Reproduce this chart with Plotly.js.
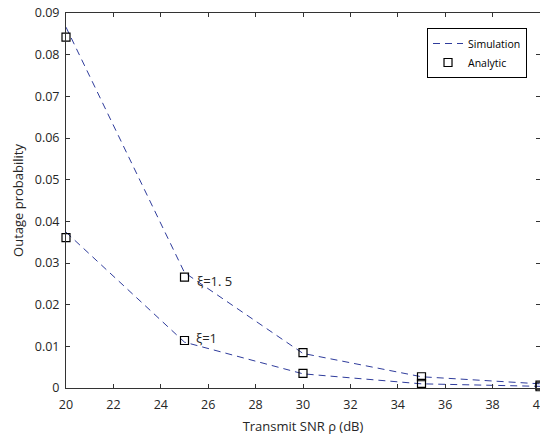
<!DOCTYPE html>
<html>
<head>
<meta charset="utf-8">
<script src="https://cdn.plot.ly/plotly-3.0.1.min.js"></script>
<style>html,body{margin:0;padding:0;background:#fff;}#chart{width:540px;height:439px;}</style>
</head>
<body>
<div id="chart"></div>
<script>
// SNR values (dB)
const snr = [20, 25, 30, 35, 40];
// Simulation (dashed lines)
const simXi15 = [0.0866, 0.0277, 0.0083, 0.0027, 0.0010];
const simXi1  = [0.0374, 0.0110, 0.0034, 0.0010, 0.0004];
// Analytic (square markers)
const anaXi15 = [0.0842, 0.0266, 0.0085, 0.0027, 0.0007];
const anaXi1  = [0.0361, 0.0114, 0.0035, 0.0011, 0.0003];
const labels = [
  {text: 'ξ=1. 5', x: 25.45, y: 0.0256},
  {text: 'ξ=1', x: 25.4, y: 0.0120}
];
const xTicks = [20, 22, 24, 26, 28, 30, 32, 34, 36, 38, 40];
const yTicks = [0, 0.01, 0.02, 0.03, 0.04, 0.05, 0.06, 0.07, 0.08, 0.09];

const lineColor = '#2f3c9c';
const font = 'Open Sans, DejaVu Sans, sans-serif';

const traces = [
  {x: snr, y: simXi15, mode: 'lines', name: 'Simulation', line: {color: lineColor, width: 1, dash: '7px,5px'}, showlegend: true, cliponaxis: false},
  {x: snr, y: simXi1, mode: 'lines', name: 'Simulation', line: {color: lineColor, width: 1, dash: '7px,5px'}, showlegend: false, cliponaxis: false},
  {x: snr, y: anaXi15, mode: 'markers', name: 'Analytic', marker: {symbol: 'square-open', size: 8, color: '#000', line: {width: 1.2, color: '#000'}}, showlegend: true, cliponaxis: false},
  {x: snr, y: anaXi1, mode: 'markers', name: 'Analytic', marker: {symbol: 'square-open', size: 8, color: '#000', line: {width: 1.2, color: '#000'}}, showlegend: false, cliponaxis: false}
];

const axisCommon = {
  showline: true, linecolor: '#333', linewidth: 1, mirror: 'ticks',
  ticks: 'inside', ticklen: 4, tickcolor: '#333', tickwidth: 1,
  showgrid: false, zeroline: false, ticklabeloverflow: 'allow',
  tickfont: {family: font, size: 12.5, color: '#262626'}
};

const layout = {
  width: 540, height: 439,
  margin: {l: 66, r: 0, t: 13, b: 51},
  paper_bgcolor: '#fff', plot_bgcolor: '#fff',
  showlegend: true,
  legend: {x: 0.9726, y: 0.96, xanchor: 'right', yanchor: 'top', bgcolor: '#fff', bordercolor: '#000', borderwidth: 1,
           font: {family: font, size: 10.5, color: '#000'}, tracegroupgap: 0, itemwidth: 30},
  xaxis: Object.assign({}, axisCommon, {range: [20, 40], tickvals: xTicks, ticktext: xTicks.map(String), ticklabelstandoff: 5,
          title: {text: 'Transmit SNR ρ (dB)', font: {family: font, size: 13, color: '#262626'}, standoff: 9}}),
  yaxis: Object.assign({}, axisCommon, {range: [0, 0.09], tickvals: yTicks, ticktext: yTicks.map(v => v === 0 ? '0' : v.toFixed(2)), ticklabelstandoff: 3,
          title: {text: 'Outage probability', font: {family: font, size: 13, color: '#262626'}, standoff: 8}}),
  annotations: labels.map(l => ({x: l.x, y: l.y, xref: 'x', yref: 'y', text: l.text, showarrow: false, xanchor: 'left', yanchor: 'middle',
    font: {family: font, size: 13, color: '#262626'}}))
};

Plotly.newPlot('chart', traces, layout, {displayModeBar: false, staticPlot: true});
</script>
</body>
</html>
